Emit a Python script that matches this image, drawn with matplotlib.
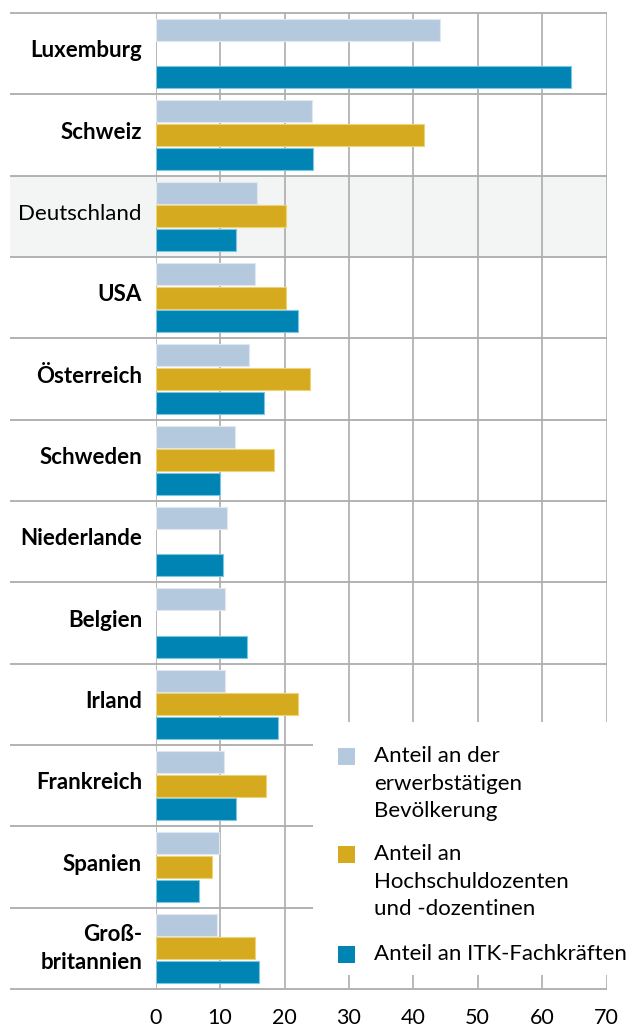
import matplotlib

matplotlib.use("Agg")
import matplotlib.pyplot as plt
import numpy as np
from matplotlib.patches import Rectangle

# values (percent)
COUNTRIES = ["Luxemburg", "Schweiz", "Deutschland", "USA", "Österreich", "Schweden",
             "Niederlande", "Belgien", "Irland", "Frankreich", "Spanien", "Groß-\nbritannien"]
ERWERB = [44.1, 24.3, 15.8, 15.4, 14.5, 12.3, 11.0, 10.8, 10.8, 10.6, 9.9, 9.5]
HOCHSCHUL = [np.nan, 41.7, 20.3, 20.2, 23.9, 18.3, np.nan, np.nan, 22.1, 17.2, 8.7, 15.4]
ITK = [64.5, 24.5, 12.5, 22.1, 16.8, 10.0, 10.4, 14.1, 19.0, 12.5, 6.8, 16.1]
XTICKS = [0, 10, 20, 30, 40, 50, 60, 70]
LEGEND_LABELS = ["Anteil an der\nerwerbstätigen\nBevölkerung",
                 "Anteil an\nHochschuldozenten\nund -dozentinen",
                 "Anteil an ITK-Fachkräften"]

C_LIGHT = "#b5c9de"
C_GOLD = "#d6aa1f"
C_BLUE = "#0084b4"
GRID = "#adadad"
FONT = "Lato"

W, H = 628, 1029
X0, X70 = 155.7, 606.5       # pixel positions of 0 and 70
TOP, BOTTOM = 13, 989        # pixel rows of first / last separator


def px_x(p):
    return (p - X0) / (X70 - X0) * 70


def px_y(p):
    return (p - TOP) / (BOTTOM - TOP) * 12


plt.rcParams["font.family"] = [FONT, "DejaVu Sans"]

fig = plt.figure(figsize=(W / 100, H / 100), dpi=100)
ax = fig.add_axes([X0 / W, (H - BOTTOM) / H, (X70 - X0) / W, (BOTTOM - TOP) / H])
ax.set_xlim(0, 70)
ax.set_ylim(12, 0)
for s in ax.spines.values():
    s.set_visible(False)
ax.set_yticks([])
ax.set_xticks(XTICKS)
ax.set_xticklabels([str(t) for t in XTICKS], fontsize=15.5)
ax.tick_params(axis="x", length=0, pad=14)

left = px_x(10)
n = len(COUNTRIES)
y = np.arange(n) + 0.5

# highlighted row for Deutschland
ax.add_patch(Rectangle((left, 2), 70 - left, 1, facecolor="#f3f4f4", edgecolor="none",
                       zorder=0, clip_on=False))

ax.vlines(XTICKS, 0, 12, color=GRID, lw=1.2, zorder=1)
ax.hlines(np.arange(n + 1), left, 70, color=GRID, lw=1.3, zorder=1, clip_on=False)

# white area behind the legend hides grid
ax.add_patch(Rectangle((px_x(313), px_y(722)), px_x(640) - px_x(313), px_y(975) - px_y(722),
                       facecolor="white", edgecolor="none", zorder=1.5, clip_on=False))

off = 0.29
bh = 0.27
series = [(ERWERB, C_LIGHT, "#dfe8f1", -off), (HOCHSCHUL, C_GOLD, "#eed27a", 0),
          (ITK, C_BLUE, "#7cc6e4", off)]
for vals, col, edge, dy in series:
    v = np.array(vals, dtype=float)
    m = ~np.isnan(v)
    ax.barh(y[m] + dy, v[m], height=bh, color=col, edgecolor=edge, lw=0.8, zorder=2)

for i, name in enumerate(COUNTRIES):
    weight = "normal" if name == "Deutschland" else "bold"
    if "\n" in name:
        ax.text(px_x(142), y[i], name, ha="right", va="center", fontsize=16,
                fontweight=weight, linespacing=1.45, multialignment="right")
    else:
        ax.text(px_x(142), y[i] + 0.045, name, ha="right", va="baseline", fontsize=16,
                fontweight=weight)

# legend drawn by hand
sq = 17
for (label, col, ytop) in zip(LEGEND_LABELS, [C_LIGHT, C_GOLD, C_BLUE], [748, 846, 946]):
    fig.patches.append(Rectangle((338 / W, (H - ytop - sq) / H), sq / W, sq / H,
                                 facecolor=col, edgecolor="none", transform=fig.transFigure))
    fig.text(374 / W, (H - ytop + 2) / H, label, ha="left", va="top", fontsize=16,
             linespacing=1.48)

fig.savefig("out.png", dpi=100)
